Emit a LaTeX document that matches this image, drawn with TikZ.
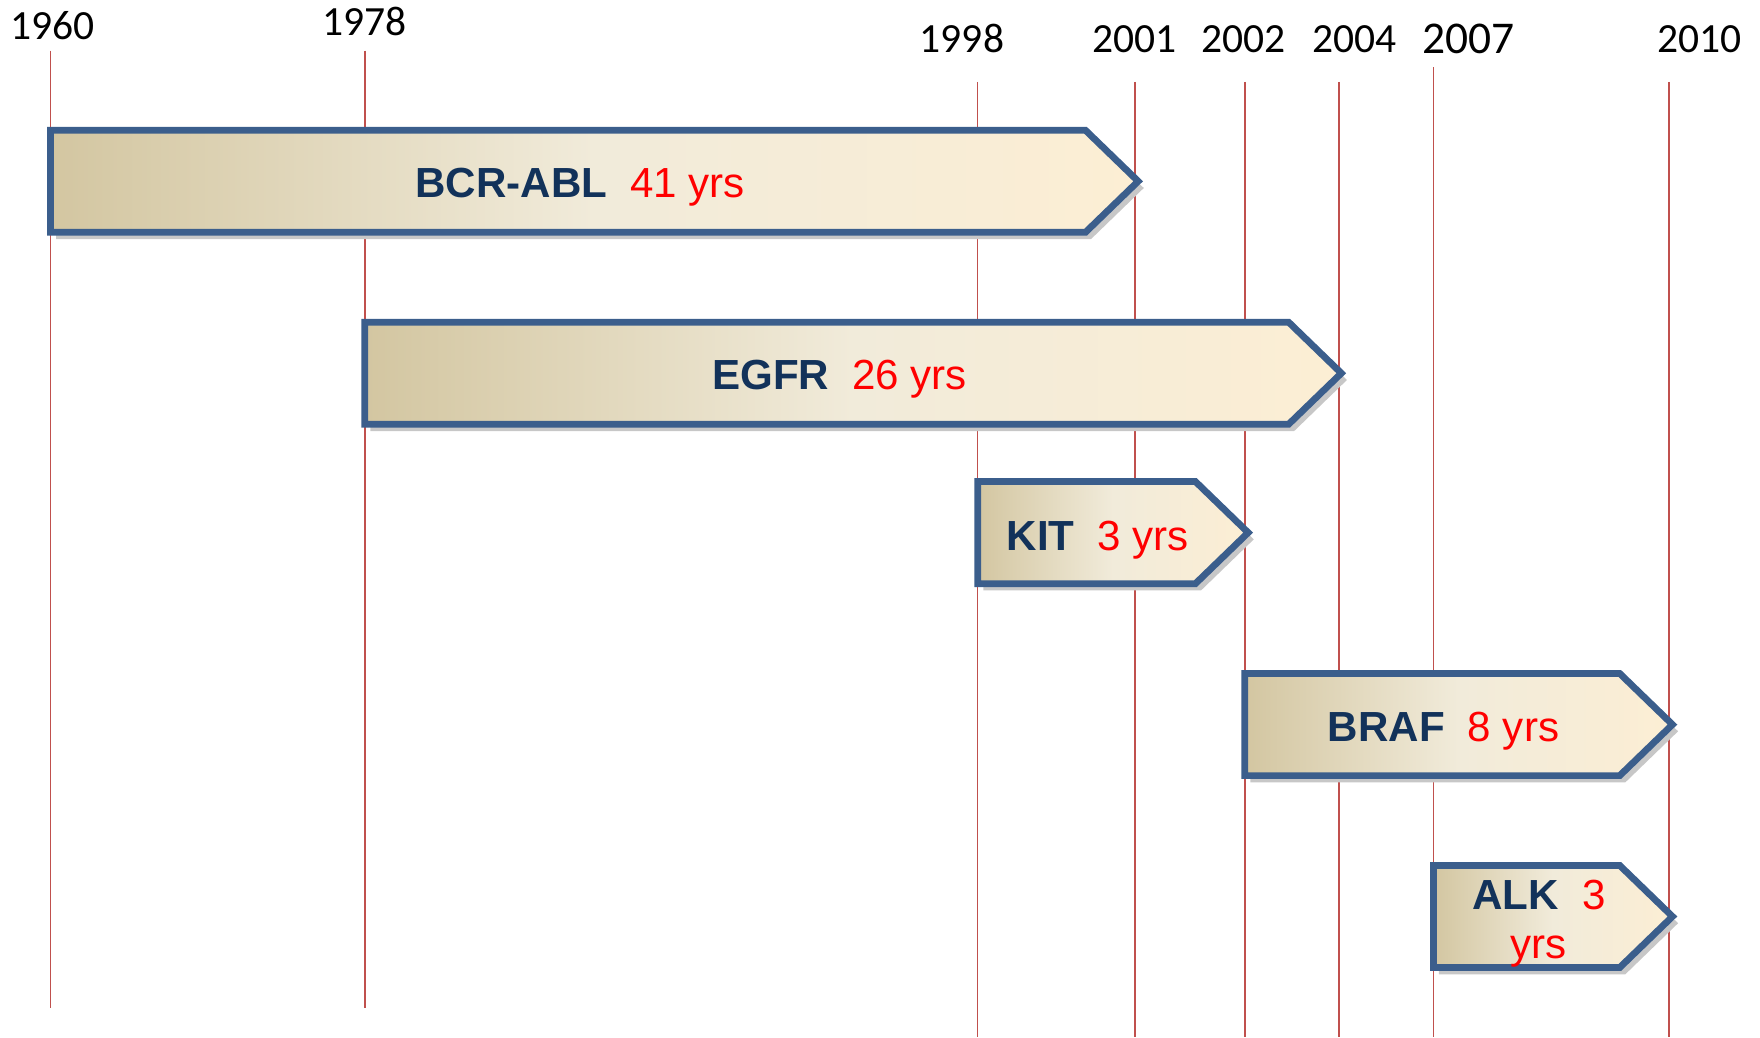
\documentclass[tikz,border=0pt]{standalone}
\usepackage{fontspec}
\setmainfont{Liberation Sans}
\newfontfamily\yearfont{Carlito}
\usetikzlibrary{positioning}
\definecolor{gridred}{HTML}{C0504D}
\definecolor{barblue}{HTML}{3B5E8C}
\definecolor{genenavy}{HTML}{12325A}
\definecolor{tanleft}{HTML}{D3C6A1}
\definecolor{creammid}{HTML}{F1EBDA}
\definecolor{creamright}{HTML}{FCEED4}
\newcommand{\yrs}[1]{\textcolor{red}{#1}}
% left end, start of point, top edge
\newcommand{\genebar}[3]{%
  \fill[barshadow] (#1+5,#3+6) -- (#2+5,#3+6) -- (#2+52,#3+51.5) -- (#2+5,#3+97) -- (#1+5,#3+97) -- cycle;
  \path[bar] (#1,#3) -- (#2,#3) -- (#2+47,#3+45.5) -- (#2,#3+91) -- (#1,#3+91) -- cycle;}

\begin{document}
\begin{tikzpicture}[
  x=1pt,y=-1pt,
  gridline/.style={gridred,line width=1.3pt},
  year/.style={anchor=base,inner sep=0pt,font=\yearfont\fontsize{37}{40}\selectfont},
  bar/.style={draw=barblue,line width=6pt,line join=miter,left color=tanleft,right color=creamright,middle color=creammid},
  barshadow/.style={fill=black!22},
  genelabel/.style={anchor=base,inner sep=0pt,align=center,text=genenavy,font=\fontsize{37.5}{45}\selectfont}
]
\useasboundingbox (0,0) rectangle (1568,924);
% year lines
\foreach \x/\top/\bot in {45/45/898,325/45/898,871/73/924,1011/73/924,1109/73/924,1193/73/924,1277/60/924,1487/73/924}
  \draw[gridline] (\x,\top) -- (\x,\bot);
% year labels
\node[year] (y1960) at (47,35) {1960};
\node[year] (y1978) at (325,32) {1978};
\node[year] (y1998) at (857,47) {1998};
\node[year] (y2001) at (1011,47) {2001};
\node[year] (y2002) at (1108,47) {2002};
\node[year] (y2004) at (1207,47) {2004};
\node[year,font=\yearfont\fontsize{40.5}{44}\selectfont] (y2007) at (1308,48) {2007};
\node[year] (y2010) at (1514,47) {2010};
% bars
\genebar{45}{967}{116}
\genebar{325}{1148}{287}
\genebar{871}{1065}{429}
\genebar{1109}{1443}{600}
\genebar{1277}{1443}{771}
\node[genelabel] (bcrabl) at (517,176) {\textbf{BCR-ABL}\hspace{0.55em}\yrs{41 yrs}};
\node[genelabel] (egfr) at (748,347) {\textbf{EGFR}\hspace{0.55em}\yrs{26 yrs}};
\node[genelabel] (kit) at (978,490) {\textbf{KIT}\hspace{0.55em}\yrs{3 yrs}};
\node[genelabel] (braf) at (1286,661) {\textbf{BRAF}\hspace{0.55em}\yrs{8 yrs}};
\node[genelabel] (alk) at (1371,854) {\textbf{ALK}\hspace{0.55em}\yrs{3}\\[-1pt]\yrs{yrs}};
\end{tikzpicture}
\end{document}
